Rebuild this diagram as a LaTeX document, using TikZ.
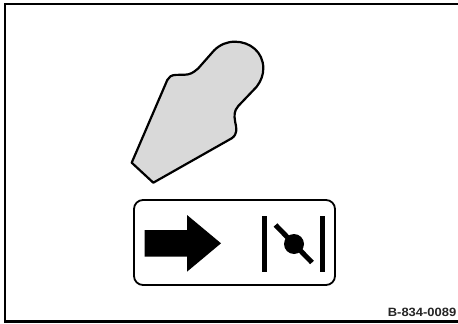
\documentclass[tikz,border=0pt]{standalone}
\usepackage{fontspec}
\setmainfont{Liberation Sans}
\tikzset{
  outline/.style={draw=black,line width=2.2pt,line join=round},
  solid black/.style={fill=black,draw=none},
  code label/.style={font=\fontsize{12}{14}\selectfont\bfseries,inner sep=0pt,anchor=base east,text=black!85,xscale=1.08}
}
\begin{document}
\begin{tikzpicture}[x=1pt,y=-1pt]
\useasboundingbox (0,0) rectangle (458,324);
\fill[white] (0,0) rectangle (458,324);
% frame
\draw[line width=2.6pt,black] (458,4) -- (5,4) -- (5,321.7) -- (458,321.7);
% cam shape
\draw[outline,fill=black!15]
  (131.7,162.7) -- (153.3,182.7) -- (231.7,138.3)
  .. controls (238,134) and (236.5,128) .. (235.2,122)
  .. controls (234,115) and (234,111) .. (238.3,106)
  -- (256.7,86.7)
  .. controls (261,81) and (263.3,75) .. (263.3,68.3)
  .. controls (263.3,52) and (250,41.7) .. (235,41.7)
  .. controls (227,41.7) and (220,44.5) .. (214,50.5)
  -- (198.3,68.3)
  .. controls (193,73) and (190,74.5) .. (185,74.7)
  -- (176,74.9)
  .. controls (171,75) and (169,77) .. (167.3,80)
  -- cycle;
% symbol box
\node[outline,line width=1.8pt,rounded corners=9pt,minimum width=201pt,minimum height=85pt,inner sep=0pt] (box) at (234.5,242.5) {};
% arrow
\fill[solid black] (144.7,230) -- (187,230) -- (187,215) -- (221,243.3) -- (187,271.7) -- (187,256.7) -- (144.7,256.7) -- cycle;
% valve
\fill[solid black] (262,216) rectangle (267.3,271.7);
\fill[solid black] (320,216) rectangle (325,271.7);
\draw[line width=5pt,black] (275.5,225) -- (312,262.5);
\fill[solid black] (294,244) circle (10);
% code
\node[code label] (code) at (456.5,316.7) {B-834-0089};
\end{tikzpicture}
\end{document}
